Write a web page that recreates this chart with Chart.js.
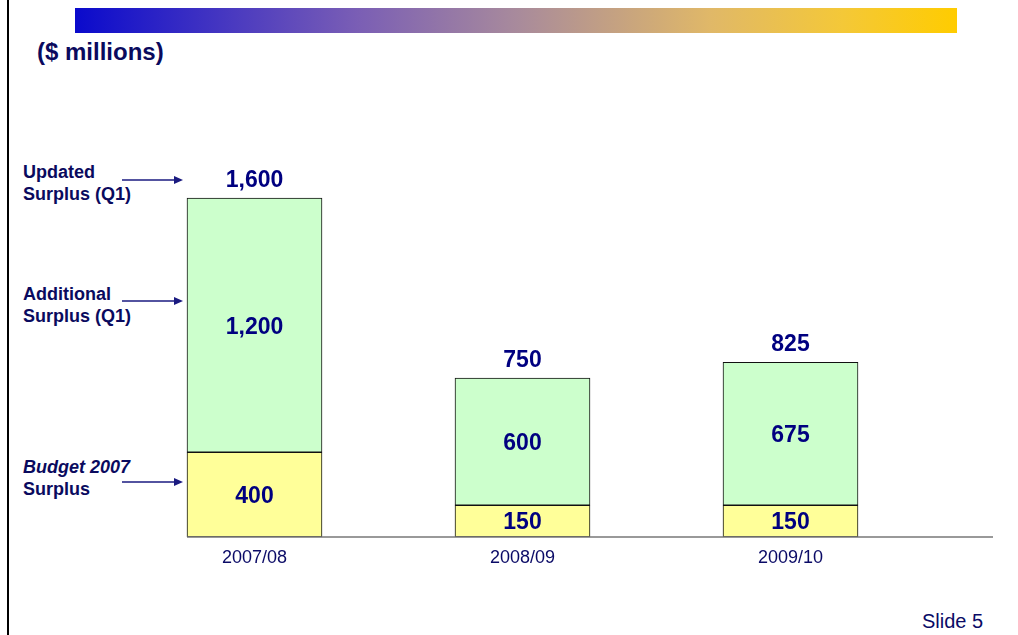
<!DOCTYPE html>
<html>
<head>
<meta charset="utf-8">
<script src="https://cdn.jsdelivr.net/npm/chart.js@4/dist/chart.umd.min.js"></script>
<style>
    html, body { margin: 0; padding: 0; background: #fff; }
    body { width: 1018px; height: 635px; position: relative; overflow: hidden; font-family: "Liberation Sans", Arial, sans-serif; }
    .frame-left { position: absolute; left: 7px; top: 0; width: 2px; height: 635px; background: #000; }
    .banner { position: absolute; left: 75px; top: 8px; width: 882px; height: 25px;
        background: linear-gradient(to right, #0a0acc 0%, #4a3ac0 18%, #7a5eb5 32%, #a88a9c 50%, #e0b868 72%, #f4c838 87%, #ffcc00 100%); }
    .title { position: absolute; left: 37px; top: 38px; font-size: 24px; font-weight: bold; color: #0a0a5e; }
    .note { position: absolute; left: 23px; font-size: 18px; font-weight: bold; color: #0a0a5e; line-height: 22px; }
    .slide { position: absolute; left: 922px; top: 610px; font-size: 20px; color: #0a0a66; }
    #wrap { position: absolute; left: 0; top: 0; width: 1018px; height: 635px; }
</style>
</head>
<body>
<div class="frame-left"></div>
<div class="banner"></div>
<div class="title">($ millions)</div>
<div class="note" style="top:161px">Updated<br>Surplus (Q1)</div>
<div class="note" style="top:283px">Additional<br>Surplus (Q1)</div>
<div class="note" style="top:456px"><i>Budget 2007</i><br>Surplus</div>
<div class="slide">Slide 5</div>
<div id="wrap"><canvas id="surplusChart"></canvas></div>

<script>
// === DATOS ===
const years = ['2007/08', '2008/09', '2009/10'];
const budgetSurplus = [400, 150, 150];
const additionalSurplus = [1200, 600, 675];
const updatedSurplus = [1600, 750, 825];

// arrows pointing from the left notes to the first bar (pixel y of each note)
const noteArrows = [180, 301, 482];

const fmt = v => v.toLocaleString('en-US');

// === ETIQUETAS, FLECHAS Y LÍNEA BASE ===
const labelsPlugin = {
    id: 'labelsPlugin',
    afterDatasetsDraw(chart) {
        const ctx = chart.ctx;
        const x = chart.scales.x;
        const y = chart.scales.y;
        const navy = '#000080';
        ctx.save();

        // baseline
        const firstBar = chart.getDatasetMeta(0).data[0];
        const y0 = y.getPixelForValue(0);
        ctx.strokeStyle = '#777';
        ctx.lineWidth = 1.5;
        ctx.beginPath();
        ctx.moveTo(firstBar.x - firstBar.width / 2, y0);
        ctx.lineTo(993, y0);
        ctx.stroke();

        // segment values
        ctx.fillStyle = navy;
        ctx.font = 'bold 23px "Liberation Sans", Arial, sans-serif';
        ctx.textAlign = 'center';
        ctx.textBaseline = 'middle';
        chart.data.datasets.forEach((ds, i) => {
            chart.getDatasetMeta(i).data.forEach((bar, j) => {
                ctx.fillText(fmt(ds.data[j]), bar.x, (bar.y + bar.base) / 2 + 2);
            });
        });

        // totals
        updatedSurplus.forEach((v, j) => {
            ctx.fillText(fmt(v), x.getPixelForValue(j), y.getPixelForValue(v) - 18);
        });

        // category labels
        ctx.fillStyle = '#0a0a66';
        ctx.font = '18px "Liberation Sans", Arial, sans-serif';
        years.forEach((c, j) => {
            ctx.fillText(c, x.getPixelForValue(j), y0 + 21);
        });

        // arrows
        const tip = firstBar.x - firstBar.width / 2 - 4;
        ctx.strokeStyle = '#1a1a80';
        ctx.fillStyle = '#1a1a80';
        ctx.lineWidth = 1.5;
        noteArrows.forEach(ay => {
            ctx.beginPath();
            ctx.moveTo(122, ay);
            ctx.lineTo(tip - 6, ay);
            ctx.stroke();
            ctx.beginPath();
            ctx.moveTo(tip, ay);
            ctx.lineTo(tip - 9, ay - 4);
            ctx.lineTo(tip - 9, ay + 4);
            ctx.closePath();
            ctx.fill();
        });
        ctx.restore();
    }
};

// === GRÁFICA DE BARRAS APILADAS ===
const surplusCtx = document.getElementById('surplusChart').getContext('2d');
new Chart(surplusCtx, {
    type: 'bar',
    data: {
        labels: years,
        datasets: [{
            label: 'Budget 2007 Surplus',
            data: budgetSurplus,
            backgroundColor: '#ffff99',
            borderColor: '#111',
            borderWidth: 1,
            borderSkipped: false,
            barThickness: 135
        }, {
            label: 'Additional Surplus (Q1)',
            data: additionalSurplus,
            backgroundColor: '#ccffcc',
            borderColor: '#111',
            borderWidth: 1,
            borderSkipped: false,
            barThickness: 135
        }]
    },
    options: {
        responsive: true,
        maintainAspectRatio: false,
        animation: false,
        layout: {
            padding: { left: 120.5, right: 93.5, top: 177, bottom: 98 }
        },
        plugins: {
            legend: { display: false },
            tooltip: { enabled: false }
        },
        scales: {
            x: { stacked: true, display: false },
            y: { stacked: true, display: false, min: 0, max: 1700 }
        }
    },
    plugins: [labelsPlugin]
});
</script>
</body>
</html>
